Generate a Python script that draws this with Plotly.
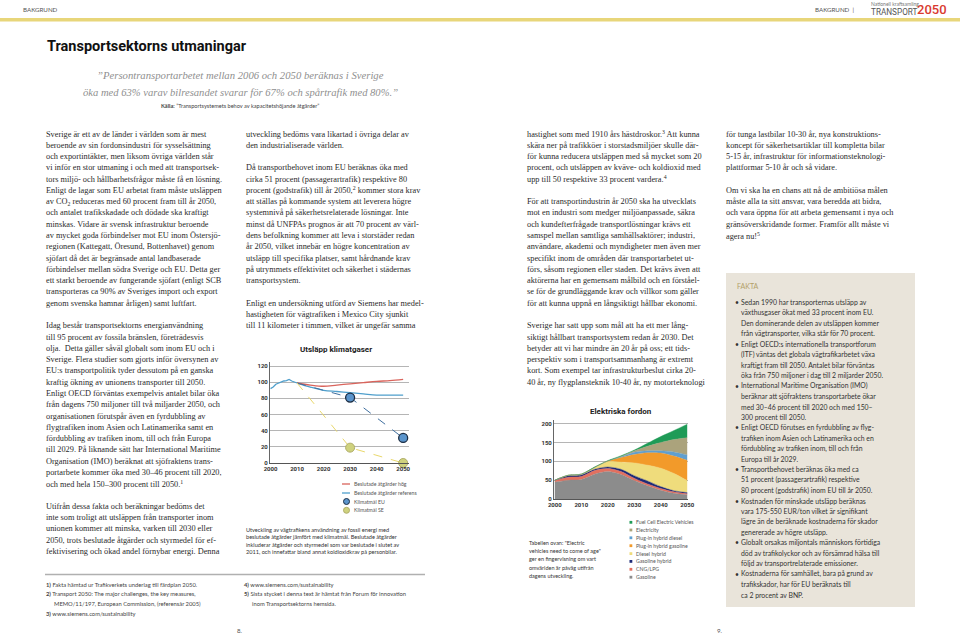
import plotly.graph_objects as go

W, H = 960, 635

# ---------------- Chart 1: Utsläpp klimatgaser ----------------
hist_years = [2000, 2001, 2002, 2003, 2004, 2005, 2006, 2007, 2008, 2009, 2010]
hist_vals = [92, 94, 97.5, 99, 100, 101.5, 102, 103.5, 101.5, 100, 99]
proj_years = [2010, 2015, 2020, 2025, 2030, 2035, 2040, 2045, 2050]
high_vals = [99, 96.5, 95, 96.5, 98, 99.5, 101, 102, 103.5]
ref_vals = [99, 94, 90, 88.5, 87, 85.5, 84, 84, 84]
goal_years = [2010, 2030, 2050]
goal_eu = [99, 81, 31]
goal_se = [99, 19, 0]
chart1_names = ["Beslutade åtgärder hög", "Beslutade åtgärder referens", "Klimatmål EU", "Klimatmål SE"]
chart1_ticks_x = [2000, 2010, 2020, 2030, 2040, 2050]
chart1_ticks_y = [0, 20, 40, 60, 80, 100, 120]

# ---------------- Chart 2: Elektriska fordon ----------------
ev_years = [2000, 2005, 2010, 2015, 2020, 2025, 2030, 2035, 2040, 2045, 2050]
ev_names = ["Gasoline", "CNG/LPG", "Gasoline hybrid", "Diesel hybrid",
            "Plug-in hybrid gasoline", "Plug-in hybrid diesel", "Electricity",
            "Fuel Cell Electric Vehicles"]
ev_gasoline = [45, 50, 52, 66, 73, 65, 49, 35, 23, 15, 11]
ev_cng = [5, 8, 8, 10, 8, 8, 6, 5, 5, 4, 3]
ev_gas_hybrid = [0, 4, 4, 3, 4, 6, 7, 8, 5, 3, 3]
ev_diesel_hybrid = [0, 1, 2, 5, 15, 19, 34, 42, 49, 46, 32]
ev_phev_gas = [0, 0, 0, 0, 1, 12, 22, 33, 40, 46, 54]
ev_phev_diesel = [0, 0, 0, 0, 0, 2, 6, 5, 6, 11, 14]
ev_electricity = [0, 0, 0, 0, 0, 1, 4, 12, 22, 33, 46]
ev_fcev = [0, 0, 0, 1, 1, 2, 2, 8, 16, 24, 36]
ev_colors = ["#8c8c8c", "#e3705f", "#1e2b78", "#efdc7c", "#f29a2a", "#5f9fd0", "#aba37c", "#1f9b57"]
chart2_ticks_x = [2000, 2010, 2020, 2030, 2040, 2050]
chart2_ticks_y = [0, 50, 100, 150, 200]

# ---------------- Texts ----------------
col1 = [
    "Sverige är ett av de länder i världen som är mest",
    "beroende av sin fordonsindustri för sysselsättning",
    "och exportintäkter, men liksom övriga världen står",
    "vi inför en stor utmaning i och med att transportsek-",
    "tors miljö- och hållbarhetsfrågor måste få en lösning.",
    "Enligt de lagar som EU arbetat fram måste utsläppen",
    "av CO<sub>2</sub> reduceras med 60 procent fram till år 2050,",
    "och antalet trafikskadade och dödade ska kraftigt",
    "minskas. Vidare är svensk infrastruktur beroende",
    "av mycket goda förbindelser mot EU inom Östersjö-",
    "regionen (Kattegatt, Öresund, Bottenhavet) genom",
    "sjöfart då det är begränsade antal landbaserade",
    "förbindelser mellan södra Sverige och EU. Detta ger",
    "ett starkt beroende av fungerande sjöfart (enligt SCB",
    "transporteras ca 90% av Sveriges import och export",
    "genom svenska hamnar årligen) samt luftfart.",
    "",
    "Idag består transportsektorns energianvändning",
    "till 95 procent av fossila bränslen, företrädesvis",
    "olja.  Detta gäller såväl globalt som inom EU och i",
    "Sverige. Flera studier som gjorts inför översynen av",
    "EU:s transportpolitik tyder dessutom på en ganska",
    "kraftig ökning av unionens transporter till 2050.",
    "Enligt OECD förväntas exempelvis antalet bilar öka",
    "från dagens 750 miljoner till två miljarder 2050, och",
    "organisationen förutspår även en fyrdubbling av",
    "flygtrafiken inom Asien och Latinamerika samt en",
    "fördubbling av trafiken inom, till och från Europa",
    "till 2029. På liknande sätt har International Maritime",
    "Organisation (IMO) beräknat att sjöfraktens trans-",
    "portarbete kommer öka med 30–46 procent till 2020,",
    "och med hela 150–300 procent till 2050.<sup>1</sup>",
    "",
    "Utifrån dessa fakta och beräkningar bedöms det",
    "inte som troligt att utsläppen från transporter inom",
    "unionen kommer att minska, varken till 2030 eller",
    "2050, trots beslutade åtgärder och styrmedel för ef-",
    "fektivisering och ökad andel förnybar energi. Denna",
]
col2 = [
    "utveckling bedöms vara likartad i övriga delar av",
    "den industrialiserade världen.",
    "",
    "Då transportbehovet inom EU beräknas öka med",
    "cirka 51 procent (passagerartrafik) respektive 80",
    "procent (godstrafik) till år 2050,<sup>2</sup> kommer stora krav",
    "att ställas på kommande system att leverera högre",
    "systemnivå på säkerhetsrelaterade lösningar. Inte",
    "minst då UNFPAs prognos är att 70 procent av värl-",
    "dens befolkning kommer att leva i storstäder redan",
    "år 2050, vilket innebär en högre koncentration av",
    "utsläpp till specifika platser, samt hårdnande krav",
    "på utrymmets effektivitet och säkerhet i städernas",
    "transportsystem.",
    "",
    "Enligt en undersökning utförd av Siemens har medel-",
    "hastigheten för vägtrafiken i Mexico City sjunkit",
    "till 11 kilometer i timmen, vilket är ungefär samma",
]
col3 = [
    "hastighet som med 1910 års hästdroskor.<sup>3</sup> Att kunna",
    "skära ner på trafikköer i storstadsmiljöer skulle där-",
    "för kunna reducera utsläppen med så mycket som 20",
    "procent, och utsläppen av kväve- och koldioxid med",
    "upp till 50 respektive 33 procent vardera.<sup>4</sup>",
    "",
    "För att transportindustrin år 2050 ska ha utvecklats",
    "mot en industri som medger miljöanpassade, säkra",
    "och kundefterfrågade transportlösningar krävs ett",
    "samspel mellan samtliga samhällsaktörer; industri,",
    "användare, akademi och myndigheter men även mer",
    "specifikt inom de områden där transportarbetet ut-",
    "förs, såsom regionen eller staden. Det krävs även att",
    "aktörerna har en gemensam målbild och en förståel-",
    "se för de grundläggande krav och villkor som gäller",
    "för att kunna uppnå en långsiktigt hållbar ekonomi.",
    "",
    "Sverige har satt upp som mål att ha ett mer lång-",
    "siktigt hållbart transportsystem redan år 2030. Det",
    "betyder att vi har mindre än 20 år på oss; ett tids-",
    "perspektiv som i transportsammanhang är extremt",
    "kort. Som exempel tar infrastrukturbeslut cirka 20-",
    "40 år, ny flygplansteknik 10-40 år, ny motorteknologi",
]
col4 = [
    "för tunga lastbilar 10-30 år, nya konstruktions-",
    "koncept för säkerhetsartiklar till kompletta bilar",
    "5-15 år, infrastruktur för informationsteknologi-",
    "plattformar 5-10 år och så vidare.",
    "",
    "Om vi ska ha en chans att nå de ambitiösa målen",
    "måste alla ta sitt ansvar, vara beredda att bidra,",
    "och vara öppna för att arbeta gemensamt i nya och",
    "gränsöverskridande former. Framför allt måste vi",
    "agera nu!<sup>5</sup>",
]
fakta = [
    ("•", "Sedan 1990 har transporternas utsläpp av"),
    ("", "växthusgaser ökat med 33 procent inom EU."),
    ("", "Den dominerande delen av utsläppen kommer"),
    ("", "från vägtransporter, vilka står för 70 procent."),
    ("•", "Enligt OECD:s internationella transportforum"),
    ("", "(ITF) väntas det globala vägtrafikarbetet växa"),
    ("", "kraftigt fram till 2050. Antalet bilar förväntas"),
    ("", "öka från 750 miljoner i dag till 2 miljarder 2050."),
    ("•", "International Maritime Organisation (IMO)"),
    ("", "beräknar att sjöfraktens transportarbete ökar"),
    ("", "med 30–46 procent till 2020 och med 150–"),
    ("", "300 procent till 2050."),
    ("•", "Enligt OECD förutses en fyrdubbling av flyg-"),
    ("", "trafiken inom Asien och Latinamerika och en"),
    ("", "fördubbling av trafiken inom, till och från"),
    ("", "Europa till år 2029."),
    ("•", "Transportbehovet beräknas öka med ca"),
    ("", "51 procent (passagerartrafik) respektive"),
    ("", "80 procent (godstrafik) inom EU till år 2050."),
    ("•", "Kostnaden för minskade utsläpp beräknas"),
    ("", "vara 175-550 EUR/ton vilket är signifikant"),
    ("", "lägre än de beräknade kostnaderna för skador"),
    ("", "genererade av högre utsläpp."),
    ("•", "Globalt orsakas miljontals människors förtidiga"),
    ("", "död av trafikolyckor och av försämrad hälsa till"),
    ("", "följd av transportrelaterade emissioner."),
    ("•", "Kostnaderna för samhället, bara på grund av"),
    ("", "trafikskador, har för EU beräknats till"),
    ("", "ca 2 procent av BNP."),
]
caption1 = [
    "Utveckling av vägtrafikens användning av fossil energi med",
    "beslutade åtgärder jämfört med klimatmål. Beslutade åtgärder",
    "inkluderar åtgärder och styrmedel som var beslutade i slutet av",
    "2011, och innefattar bland annat koldioxidkrav på personbilar.",
]
caption2 = [
    "Tabellen ovan: \"Electric",
    "vehicles need to come of age\"",
    "ger en fingervisning om vart",
    "omvärlden är påväg utifrån",
    "dagens utveckling.",
]
foot_left = [
    ("<b>1)</b> Fakta hämtad ur Trafikverkets underlag till färdplan 2050.", 0),
    ("<b>2)</b> Transport 2050: The major challenges, the key measures,", 0),
    ("MEMO/11/197, European Commission, (referensår 2005)", 8),
    ("<b>3)</b> www.siemens.com/sustainability", 0),
]
foot_right = [
    ("<b>4)</b> www.siemens.com/sustainability", 0),
    ("<b>5)</b> Sista stycket i denna text är hämtat från Forum för innovation", 0),
    ("inom Transportsektorns hemsida.", 8),
]

SERIF = "Liberation Serif"
SANS = "Lato"


def px(x):
    return x / W


def py(y):
    return 1 - y / H


annotations = []
shapes = []


def txt(x, y, text, size, family=SANS, color="#333", xanchor="left", weight=None, style=None):
    f = dict(size=size, family=family, color=color)
    if weight:
        f["weight"] = weight
    if style:
        f["style"] = style
    annotations.append(dict(x=px(x), y=py(y), xref="paper", yref="paper", text=text,
                            showarrow=False, xanchor=xanchor, yanchor="middle",
                            font=f, borderpad=0))


fig = go.Figure()

# ---- Chart 1 traces
fig.add_trace(go.Scatter(x=hist_years, y=hist_vals, mode="lines",
                         line=dict(color="#4f9fcc", width=1.3), showlegend=False,
                         xaxis="x", yaxis="y"))
fig.add_trace(go.Scatter(x=proj_years, y=ref_vals, mode="lines", name=chart1_names[1],
                         line=dict(color="#4f9fcc", width=1.3, shape="spline"), showlegend=False,
                         xaxis="x", yaxis="y"))
fig.add_trace(go.Scatter(x=proj_years, y=high_vals, mode="lines", name=chart1_names[0],
                         line=dict(color="#d9645c", width=1.3, shape="spline"), showlegend=False,
                         xaxis="x", yaxis="y"))
fig.add_trace(go.Scatter(x=goal_years, y=goal_eu, mode="lines",
                         line=dict(color="#3f6f9f", width=1, dash="dash"), showlegend=False,
                         xaxis="x", yaxis="y"))
fig.add_trace(go.Scatter(x=goal_years, y=goal_se, mode="lines",
                         line=dict(color="#e9d86c", width=1, dash="dash"), showlegend=False,
                         xaxis="x", yaxis="y"))
fig.add_trace(go.Scatter(x=goal_years[1:], y=goal_eu[1:], mode="markers", name=chart1_names[2],
                         marker=dict(size=9, color="#5b95cc", line=dict(color="#1c2e44", width=1.3)),
                         cliponaxis=False, showlegend=False, xaxis="x", yaxis="y"))
fig.add_trace(go.Scatter(x=goal_years[1:], y=goal_se[1:], mode="markers", name=chart1_names[3],
                         marker=dict(size=9, color="#cfd27e", line=dict(color="#b0ae6a", width=1)),
                         cliponaxis=False, showlegend=False, xaxis="x", yaxis="y"))

# ---- Chart 2 traces
ev_series = [ev_gasoline, ev_cng, ev_gas_hybrid, ev_diesel_hybrid,
             ev_phev_gas, ev_phev_diesel, ev_electricity, ev_fcev]
for name, vals, col in zip(ev_names, ev_series, ev_colors):
    fig.add_trace(go.Scatter(x=ev_years, y=vals, name=name, mode="lines", stackgroup="ev",
                             line=dict(width=0.4, color=col, shape="spline", smoothing=0.8),
                             fillcolor=col, showlegend=False, xaxis="x2", yaxis="y2"))

# ---- Axes
tickf = dict(size=6, family="Roboto", color="#333", weight=700)
c1_x0, c1_x1, c1_top, c1_bot = 270, 409, 362, 463
c2_x0, c2_x1, c2_top, c2_bot = 554, 688, 420, 499
fig.update_layout(
    xaxis=dict(domain=[px(c1_x0), px(c1_x1)], range=[1999.8, 2052.2], tickvals=chart1_ticks_x,
               showgrid=False, zeroline=False, showline=True, linecolor="#555", linewidth=1.2,
               ticks="", tickfont=tickf, anchor="y", fixedrange=True, automargin=False),
    yaxis=dict(domain=[py(c1_bot), py(c1_top)], range=[0, 125], tickvals=chart1_ticks_y,
               showgrid=True, gridcolor="#b5b5b5", gridwidth=0.8, zeroline=False,
               showline=True, linecolor="#666", linewidth=1, ticks="", tickfont=tickf,
               anchor="x", fixedrange=True, automargin=False),
    xaxis2=dict(domain=[px(c2_x0), px(c2_x1)], range=[1999.7, 2050.3], tickvals=chart2_ticks_x,
                showgrid=False, zeroline=False, showline=True, linecolor="#555", linewidth=1.2,
                ticks="", tickfont=tickf, anchor="y2", fixedrange=True, automargin=False),
    yaxis2=dict(domain=[py(c2_bot), py(c2_top)], range=[0, 210], tickvals=chart2_ticks_y,
                showgrid=True, gridcolor="#b5b5b5", gridwidth=0.8, zeroline=False,
                showline=True, linecolor="#666", linewidth=1, ticks="", tickfont=tickf,
                anchor="x2", fixedrange=True, automargin=False),
)

# ---- Chart titles
txt(336, 349, "Utsläpp klimatgaser", 8, family="Roboto", color="#222", xanchor="center", weight=700)
txt(621, 411, "Elektriska fordon", 8, family="Roboto", color="#222", xanchor="center", weight=700)

# ---- Chart 1 legend (custom)
leg1_y = [484, 493, 501.5, 510.3]
leg1_x = 353
shapes.append(dict(type="line", xref="paper", yref="paper", x0=px(342), x1=px(350),
                   y0=py(leg1_y[0]), y1=py(leg1_y[0]), line=dict(color="#d9645c", width=1.3)))
shapes.append(dict(type="line", xref="paper", yref="paper", x0=px(342), x1=px(350),
                   y0=py(leg1_y[1]), y1=py(leg1_y[1]), line=dict(color="#4f9fcc", width=1.3)))
for yy, fc, lc in [(leg1_y[2], "#5b95cc", "#1c2e44"), (leg1_y[3], "#cfd27e", "#b0ae6a")]:
    shapes.append(dict(type="circle", xref="paper", yref="paper", x0=px(343.5), x1=px(349.5),
                       y0=py(yy + 3), y1=py(yy - 3), fillcolor=fc, line=dict(color=lc, width=1)))
for name, yy in zip(chart1_names, leg1_y):
    txt(leg1_x, yy, name, 5.2, color="#555")

# ---- Chart 2 legend (custom)
leg2_y = [522.3, 530, 537.8, 545.7, 553.6, 561.4, 569.3, 577.2]
for name, col, yy in zip(ev_names[::-1], ev_colors[::-1], leg2_y):
    shapes.append(dict(type="rect", xref="paper", yref="paper", x0=px(629.5), x1=px(632.3),
                       y0=py(yy + 1.4), y1=py(yy - 1.4), fillcolor=col, line=dict(width=0)))
    txt(635, yy, name, 5.2, color="#555")

# ---- Captions
for i, line in enumerate(caption1):
    txt(245, 529 + i * 7.6, line, 5.6, color="#333")
for i, line in enumerate(caption2):
    txt(528, 543 + i * 8.2, line, 5.5, color="#333")

# ---- Header
shapes.append(dict(type="rect", xref="paper", yref="paper", x0=0, x1=1, y0=py(21.5), y1=py(18),
                   fillcolor="#e8d67a", line=dict(width=0)))
txt(22, 10, "BAKGRUND", 6.2, color="#555")
txt(814, 10, "BAKGRUND  |", 6.2, color="#555")
txt(870, 4, "Nationell kraftsamling", 5, color="#777")
txt(870, 11.5, "TRANSPORT", 8.2, family="Roboto", color="#555")
txt(916, 9, "2050", 13, family="Roboto", color="#d93a2f", weight=500)

# ---- Title + quote
txt(46, 46, "Transportsektorns utmaningar", 14.5, family="Roboto", color="#111", weight=700)
txt(240, 75, "”Persontransportarbetet mellan 2006 och 2050 beräknas i Sverige", 10.7,
    family=SERIF, color="#8f8f8f", xanchor="center", style="italic")
txt(240, 93, "öka med 63% varav bilresandet svarar för 67% och spårtrafik med 80%.”", 10.6,
    family=SERIF, color="#8f8f8f", xanchor="center", style="italic")
txt(240, 105, "<b>Källa:</b> ”Transportsystemets behov av kapacitetshöjande åtgärder”", 5.6,
    color="#444", xanchor="center")

# ---- Body columns
LS = 11.28
BODY = 8.3
for cx, lines in [(45, col1), (245, col2), (526, col3), (725, col4)]:
    for i, line in enumerate(lines):
        if line:
            txt(cx, 134 + i * LS, line, BODY, family=SERIF, color="#2a2a2a")

# ---- FAKTA box
shapes.append(dict(type="rect", xref="paper", yref="paper", x0=px(726), x1=px(915),
                   y0=py(607), y1=py(273), fillcolor="#e9e4da", line=dict(width=0), layer="below"))
txt(736, 286, "FAKTA", 7, color="#b3a069")
for i, (b, line) in enumerate(fakta):
    yy = 302 + i * 10.45
    if b:
        txt(734, yy, b, 6.8, color="#333")
    txt(740, yy, line, 6.85, color="#333")

# ---- Footnotes
shapes.append(dict(type="line", xref="paper", yref="paper", x0=px(45), x1=px(425),
                   y0=py(574.5), y1=py(574.5), line=dict(color="#b0b0b0", width=1.5)))
for i, (line, ind) in enumerate(foot_left):
    txt(45 + ind, 584 + i * 9.7, line, 5.8, color="#444")
for i, (line, ind) in enumerate(foot_right):
    txt(243 + ind, 584 + i * 9.7, line, 5.8, color="#444")
txt(240, 630, "8.", 6.2, color="#555", xanchor="center")
txt(720, 630, "9.", 6.2, color="#555", xanchor="center")

fig.update_layout(
    width=W, height=H, margin=dict(l=0, r=0, t=0, b=0, autoexpand=False),
    paper_bgcolor="white", plot_bgcolor="rgba(0,0,0,0)",
    showlegend=False, annotations=annotations, shapes=shapes,
)

fig.write_html("out.html", config={"displayModeBar": False},
               post_script="document.body.style.margin='0';document.body.style.padding='0';"
                           "document.documentElement.style.overflow='hidden';")
